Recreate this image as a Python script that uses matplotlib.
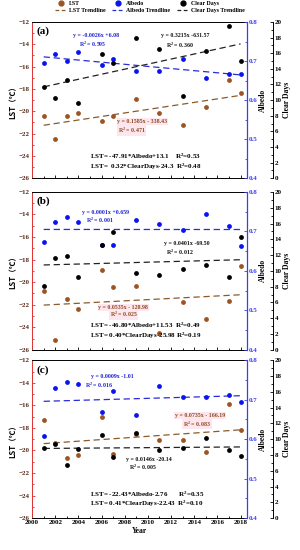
import matplotlib
matplotlib.use("Agg")
import matplotlib.pyplot as plt
import numpy as np
from matplotlib.ticker import MultipleLocator
from matplotlib.lines import Line2D

plt.rcParams['font.family'] = ['Liberation Serif', 'DejaVu Serif']
plt.rcParams['font.weight'] = 'bold'
plt.rcParams['mathtext.default'] = 'regular'

years = [2001, 2002, 2003, 2004, 2006, 2007, 2009, 2011, 2013, 2015, 2017, 2018]

# panel (a)
lst_a = [-20.4, -22.5, -20.4, -20.15, -20.9, -20.4, -18.9, -20.15, -21.2, -19.65, -17.2, -18.4]
alb_a = [0.696, 0.717, 0.700, 0.722, 0.691, 0.704, 0.674, 0.674, 0.704, 0.657, 0.666, 0.668]
days_a = [11.7, 10.3, 12.6, 9.65, 15.9, 14.8, 18.0, 16.5, 10.5, 16.3, 19.5, 15.0]

# panel (b)
lst_b = [-20.8, -25.15, -21.5, -22.4, -18.9, -20.4, -20.35, -24.5, -21.75, -23.3, -21.7, -18.6]
alb_b = [0.674, 0.723, 0.736, 0.723, 0.665, 0.665, 0.729, 0.720, 0.703, 0.744, 0.714, 0.663]
days_b = [8.1, 11.66, 11.87, 9.17, 13.27, 14.96, 9.75, 9.46, 10.18, 10.73, 9.25, 14.25]

# panel (c)
lst_c = [-17.3, -19.35, -20.7, -20.4, -17.05, -20.3, -18.5, -19.05, -19.05, -20.15, -15.9, -18.2]
alb_c = [0.607, 0.729, 0.746, 0.739, 0.670, 0.721, 0.660, 0.735, 0.708, 0.708, 0.712, 0.695]
days_c = [8.86, 9.37, 6.75, 8.77, 10.47, 7.72, 10.76, 8.69, 8.86, 10.13, 8.65, 7.93]

panel_labels = ['(a)', '(b)', '(c)']

eq_alb = [("y = -0.0026x +6.08", "R$^2$ = 0.595"),
          ("y = 0.0001x +0.659", "R$^2$ = 0.001"),
          ("y = 0.0009x -1.01", "R$^2$ = 0.016")]
eq_days = [("y = 0.3215x -631.57", "R$^2$ = 0.360"),
           ("y = 0.0401x -69.50", "R$^2$ = 0.012"),
           ("y = 0.0146x -20.14", "R$^2$ = 0.005")]
eq_lst = [("y = 0.1585x - 338.43", "R$^2$ = 0.471"),
          ("y = 0.0535x - 128.98", "R$^2$ = 0.025"),
          ("y = 0.0735x - 166.19", "R$^2$ = 0.083")]
eq_multi = [("LST= -47.91*Albedo+13.1    R$^2$=0.53", "LST=  0.32*ClearDays-24.3  R$^2$=0.48"),
            ("LST= -46.80*Albedo+11.53  R$^2$=0.49", "LST= 0.40*ClearDays-25.98 R$^2$=0.19"),
            ("LST= -22.43*Albedo-2.76       R$^2$=0.35", "LST= 0.41*ClearDays-22.43  R$^2$=0.10")]

# text positions (axes fraction) for each panel
pos_alb = [((0.30, 0.912), (0.283, 0.857)), ((0.343, 0.871), (0.316, 0.823)), ((0.374, 0.897), (0.3125, 0.844))]
pos_days = [((0.715, 0.912), (0.69, 0.853)), ((0.72, 0.671), (0.69, 0.618)), ((0.545, 0.369), (0.514, 0.321))]
pos_lst = [((0.514, 0.361), (0.463, 0.308)), ((0.425, 0.27), (0.425, 0.222)), ((0.783, 0.65), (0.767, 0.597))]

BROWN = '#9C5522'
BROWN_LINE = '#8B5A2B'
BLUE = '#0A14F0'
BLUE_AX = '#3C3CF0'

fig = plt.figure(figsize=(3.0, 5.5), dpi=100)
left, right = 0.107, 0.823
panel_tb = [(0.96, 0.676), (0.651, 0.364), (0.345, 0.058)]

data = [(lst_a, alb_a, days_a), (lst_b, alb_b, days_b), (lst_c, alb_c, days_c)]
yr = np.array(years)
ends = np.array([years[0], years[-1]])

for i, (lst, alb, days) in enumerate(data):
    top, bot = panel_tb[i]
    ax = fig.add_axes([left, bot, right - left, top - bot])
    ax2 = ax.twinx()
    ax3 = ax.twinx()

    # LST
    ax.scatter(years, lst, s=12, color=BROWN, zorder=3, linewidths=0)
    p = np.polyfit(yr, lst, 1)
    ax.plot(ends, np.polyval(p, ends), color=BROWN_LINE, lw=0.9, dashes=(5, 3))
    ax.set_xlim(2000, 2018.55)
    ax.set_ylim(-26, -12)
    ax.yaxis.set_major_locator(MultipleLocator(2))
    ax.yaxis.set_minor_locator(MultipleLocator(1))
    ax.xaxis.set_major_locator(MultipleLocator(2))
    ax.xaxis.set_minor_locator(MultipleLocator(1))
    ax.tick_params(which='both', direction='in', labelsize=5, width=0.6, pad=1.5)
    ax.tick_params(which='major', length=2.2)
    ax.tick_params(which='minor', length=1.2)
    ax.tick_params(axis='y', which='both', colors='#E03030', labelcolor='#5A2A1A')
    ax.spines['left'].set_color('#E03030')
    ax.spines['right'].set_visible(False)
    for s in ['top', 'bottom', 'left']:
        ax.spines[s].set_linewidth(0.7)
    ax.set_ylabel('LST（℃）', fontsize=5.5, fontweight='bold', labelpad=1,
                  family=['Noto Sans CJK SC', 'DejaVu Serif'])
    if i < 2:
        ax.tick_params(axis='x', labelbottom=False)
    else:
        ax.set_xlabel('Year', fontsize=5.5, fontweight='bold', labelpad=1)

    # Albedo
    ax2.scatter(years, alb, s=12, color=BLUE, zorder=3, linewidths=0)
    p = np.polyfit(yr, alb, 1)
    ax2.plot(ends, np.polyval(p, ends), color='#2B2BD8', lw=0.9, dashes=(5, 3))
    ax2.set_ylim(0.4, 0.8)
    ax2.yaxis.set_major_locator(MultipleLocator(0.1))
    ax2.yaxis.set_minor_locator(MultipleLocator(0.05))
    ax2.tick_params(which='both', direction='in', labelsize=5, width=0.6, pad=1.5,
                    colors=BLUE_AX, labelcolor=BLUE_AX)
    ax2.tick_params(which='major', length=2.2)
    ax2.tick_params(which='minor', length=1.2)
    for s in ['top', 'bottom', 'left']:
        ax2.spines[s].set_visible(False)
    ax2.spines['right'].set_color(BLUE_AX)
    ax2.spines['right'].set_linewidth(0.9)
    ax2.set_ylabel('Albedo', fontsize=5.5, fontweight='bold', labelpad=1)

    # Clear days
    ax3.scatter(years, days, s=12, color='black', zorder=3, linewidths=0)
    p = np.polyfit(yr, days, 1)
    ax3.plot(ends, np.polyval(p, ends), color='#222222', lw=0.9, dashes=(5, 3))
    ax3.set_ylim(0, 20)
    ax3.yaxis.set_major_locator(MultipleLocator(2))
    ax3.yaxis.set_minor_locator(MultipleLocator(1))
    ax3.spines['right'].set_position(('axes', 1.12))
    for s in ['top', 'bottom', 'left']:
        ax3.spines[s].set_visible(False)
    ax3.spines['right'].set_linewidth(0.7)
    ax3.tick_params(which='both', direction='in', labelsize=5, width=0.6, pad=1.5)
    ax3.tick_params(which='major', length=2.2)
    ax3.tick_params(which='minor', length=1.2)
    ax3.set_ylabel('Clear Days', fontsize=5.5, fontweight='bold', labelpad=1)

    # annotations
    ax.text(0.02, 0.97, panel_labels[i], transform=ax.transAxes, fontsize=8,
            fontweight='bold', va='top', ha='left')
    (p1, p2) = pos_alb[i]
    ax.text(*p1, eq_alb[i][0], transform=ax.transAxes, fontsize=4.2, color='#2020D0',
            ha='center', va='center', zorder=5)
    ax.text(*p2, eq_alb[i][1], transform=ax.transAxes, fontsize=4.2, color='#2020D0',
            ha='center', va='center', zorder=5)
    (p1, p2) = pos_days[i]
    ax.text(*p1, eq_days[i][0], transform=ax.transAxes, fontsize=4.2, color='#111111',
            ha='center', va='center', zorder=5)
    ax.text(*p2, eq_days[i][1], transform=ax.transAxes, fontsize=4.2, color='#111111',
            ha='center', va='center', zorder=5)
    (p1, p2) = pos_lst[i]
    for pp, t in zip((p1, p2), eq_lst[i]):
        ax.text(*pp, t, transform=ax.transAxes, fontsize=4.2, color='#8B4A1E',
                ha='center', va='center', zorder=5,
                bbox=dict(boxstyle='square,pad=0.15', fc='#FDE6EE', ec='none'))
    ax.text(0.27, 0.14 if i == 0 else 0.152, eq_multi[i][0], transform=ax.transAxes,
            fontsize=5, ha='left', va='center')
    ax.text(0.27, 0.075 if i == 0 else 0.09, eq_multi[i][1], transform=ax.transAxes,
            fontsize=5, ha='left', va='center')

handles = [
    Line2D([], [], ls='none', marker='o', ms=3.5, color=BROWN, label='LST'),
    Line2D([], [], color=BROWN_LINE, lw=0.9, dashes=(3, 2), label='LST Trendline'),
    Line2D([], [], ls='none', marker='o', ms=3.5, color=BLUE, label='Albedo'),
    Line2D([], [], color='#2B2BD8', lw=0.9, dashes=(3, 2), label='Albedo Trendline'),
    Line2D([], [], ls='none', marker='o', ms=3.5, color='black', label='Clear Days'),
    Line2D([], [], color='#222222', lw=0.9, dashes=(3, 2), label='Clear Days Trendline'),
]
fig.legend(handles=handles, ncol=3, loc='upper center', bbox_to_anchor=(0.5, 1.005),
           frameon=False, fontsize=4.2, handlelength=2.0, handletextpad=0.4,
           columnspacing=1.2, labelspacing=0.3, borderpad=0.2)

fig.savefig('out.png', dpi=100)
